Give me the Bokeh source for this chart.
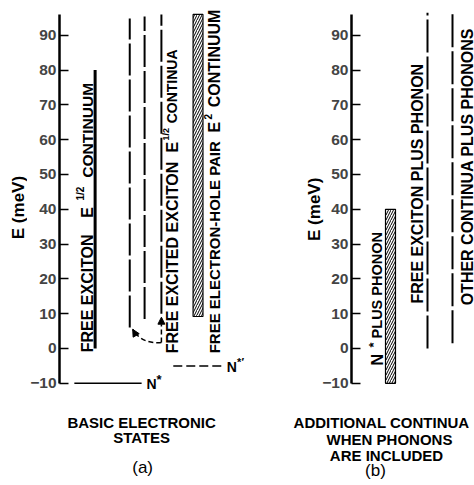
import math
from bokeh.plotting import figure
from bokeh.models import Range1d, FixedTicker, Label, Arrow, NormalHead
from bokeh.layouts import row
from bokeh.embed import file_html
from bokeh.resources import INLINE

# ---- data (energies in meV) ----
y_ticks = [-10, 0, 10, 20, 30, 40, 50, 60, 70, 80, 90]
axis_bounds = (-10, 96)

exciton_continuum = [0, 80]                 # free exciton E^1/2 continuum
excited_starts = [6.0, 8.5, 10.0]           # free excited exciton continua
excited_ends = [94.8, 95.4, 96.0]
pair_continuum = [9.2, 96.0]                # free electron-hole pair E^2 continuum
n_star = -10
n_star_prime = -5
arrow_base = 1.7
arrow_up_tip = 9.0
arrow_left_tip = 5.5

nstar_phonon = [-10, 40]                    # N* plus phonon
exciton_phonon = [0, 96.5]                  # free exciton plus phonon
other_phonons = [1.5, 96.5]                 # other continua plus phonons

FONT = "Liberation Sans"
Y_RANGE = (-39.37, 100)


def base_fig(width, left_border, x0, x1, with_axis=True):
    p = figure(width=width, height=485, x_range=Range1d(x0, x1), y_range=Range1d(*Y_RANGE),
               output_backend="svg", toolbar_location=None, min_border=0,
               min_border_left=left_border, x_axis_location=None,
               y_axis_location="left" if with_axis else None)
    p.xgrid.visible = False
    p.ygrid.visible = False
    p.outline_line_color = None
    return p


def style_axis(p, fixed=None):
    ax = p.yaxis[0]
    if fixed is not None:
        ax.fixed_location = fixed
    ax.ticker = FixedTicker(ticks=y_ticks)
    ax.bounds = axis_bounds
    ax.major_tick_in = 9
    ax.major_tick_out = 0
    ax.minor_tick_in = 0
    ax.minor_tick_out = 0
    ax.axis_line_width = 2.5
    ax.major_tick_line_width = 1.5
    ax.major_label_text_font = FONT
    ax.major_label_text_font_style = "bold"
    ax.major_label_text_font_size = "15.5px"
    ax.major_label_standoff = 3
    ax.major_label_overrides = {-10: "\u221210"}


def lab(p, x, y, text, size=16, angle=0.0, align="left", baseline="middle", bold=True):
    p.add_layout(Label(x=x, y=y, text=text, angle=angle, text_align=align,
                       text_baseline=baseline, text_font=FONT,
                       text_font_size=f"{size}px",
                       text_font_style="bold" if bold else "normal", text_color="black"))


V = math.pi / 2

# ---------------- axis title strip of panel (a) ----------------
p0 = base_fig(27, 0, 0, 27, with_axis=False)
lab(p0, 17.5, 40.5, "E (meV)", size=17, angle=V, align="center")

# ---------------- panel (a) ----------------
p1 = base_fig(219, 30, 57, 246)
style_axis(p1)

p1.segment(x0=[93], y0=[exciton_continuum[0]], x1=[93], y1=[exciton_continuum[1]],
           line_width=3, line_color="black")
p1.segment(x0=[128, 143, 160], y0=excited_starts, x1=[128, 143, 160], y1=excited_ends,
           line_width=2, line_color="black", line_dash="32 4")
p1.quad(left=[192], right=[202], bottom=[pair_continuum[0]], top=[pair_continuum[1]],
        fill_color="white", line_color="black", line_width=1.2,
        hatch_pattern="/", hatch_scale=5, hatch_weight=1, hatch_color="black")
p1.segment(x0=[72], y0=[n_star], x1=[140], y1=[n_star], line_width=1.5, line_color="black")
p1.segment(x0=[172], y0=[n_star_prime], x1=[223], y1=[n_star_prime], line_width=1.5,
           line_color="black", line_dash="9 4")

# arrows from the excited state
p1.add_layout(Arrow(x_start=160, y_start=arrow_base, x_end=160, y_end=arrow_up_tip,
                    line_width=1.5, line_dash="5 3",
                    end=NormalHead(size=7, fill_color="black", line_color="black")))
p1.bezier(x0=[160], y0=[arrow_base], x1=[131], y1=[arrow_left_tip],
          cx0=[146], cy0=[1.3], cx1=[136], cy1=[3.0], line_width=1.5,
          line_color="black", line_dash="5 3")
p1.add_layout(Arrow(x_start=136, y_start=3.0, x_end=131, y_end=arrow_left_tip,
                    line_alpha=0,
                    end=NormalHead(size=7, fill_color="black", line_color="black")))

# vertical texts
lab(p1, 85, -1.1, "FREE EXCITON", angle=V)
lab(p1, 85, 37.6, "E", angle=V)
lab(p1, 78.5, 42.5, "1/2", size=10, angle=V)
lab(p1, 85, 49.1, "CONTINUUM", size=15.5, angle=V)

lab(p1, 171, -1.4, "FREE EXCITED EXCITON", angle=V)
lab(p1, 171, 56.3, "E", angle=V)
lab(p1, 165, 59.8, "1/2", size=9, angle=V)
lab(p1, 171, 64.7, "CONTINUA", size=14, angle=V)

lab(p1, 214, -1.4, "FREE ELECTRON-HOLE PAIR", size=15, angle=V)
lab(p1, 214, 62.1, "E", angle=V)
lab(p1, 207, 65.8, "2", size=10, angle=V)
lab(p1, 214, 69.3, "CONTINUUM", angle=V)

lab(p1, 145, -10.3, "N", size=14)
lab(p1, 155, -9.0, "*", size=13)
lab(p1, 226, -5.2, "N", size=14)
lab(p1, 236.5, -4.0, "*\u2032", size=11)

lab(p1, 140, -21.3, "BASIC ELECTRONIC", size=15, align="center")
lab(p1, 140, -25.7, "STATES", size=15, align="center")
lab(p1, 141, -34.2, "(a)", size=17, align="center", bold=False)

# ---------------- panel (b) ----------------
p2 = base_fig(228, 34, 280, 474)
style_axis(p2, fixed=351)

p2.quad(left=[385], right=[395], bottom=[nstar_phonon[0]], top=[nstar_phonon[1]],
        fill_color="white", line_color="black", line_width=1.2,
        hatch_pattern="/", hatch_scale=5, hatch_weight=1, hatch_color="black")
p2.segment(x0=[427, 452], y0=[exciton_phonon[0], other_phonons[0]],
           x1=[427, 452], y1=[exciton_phonon[1], other_phonons[1]],
           line_width=2, line_color="black", line_dash="33 4")

lab(p2, 376.5, -4.9, "N", angle=V)
lab(p2, 373, 0.3, "*", size=13, angle=V)
lab(p2, 376.5, 2.9, "PLUS PHONON", size=14.5, angle=V)
lab(p2, 417, 12.9, "FREE EXCITON PLUS PHONON", angle=V)
lab(p2, 466.5, 12.4, "OTHER CONTINUA PLUS PHONONS", angle=V)

lab(p2, 314, 40.0, "E (meV)", size=17, angle=V, align="center")

lab(p2, 381, -21.3, "ADDITIONAL CONTINUA", size=15, align="center")
lab(p2, 389, -26.1, "WHEN PHONONS", size=15, align="center")
lab(p2, 386, -30.7, "ARE INCLUDED", size=15, align="center")
lab(p2, 375, -35.1, "(b)", size=17, align="center", bold=False)

layout = row(p0, p1, p2)
open("out.html", "w").write(file_html(layout, INLINE))
